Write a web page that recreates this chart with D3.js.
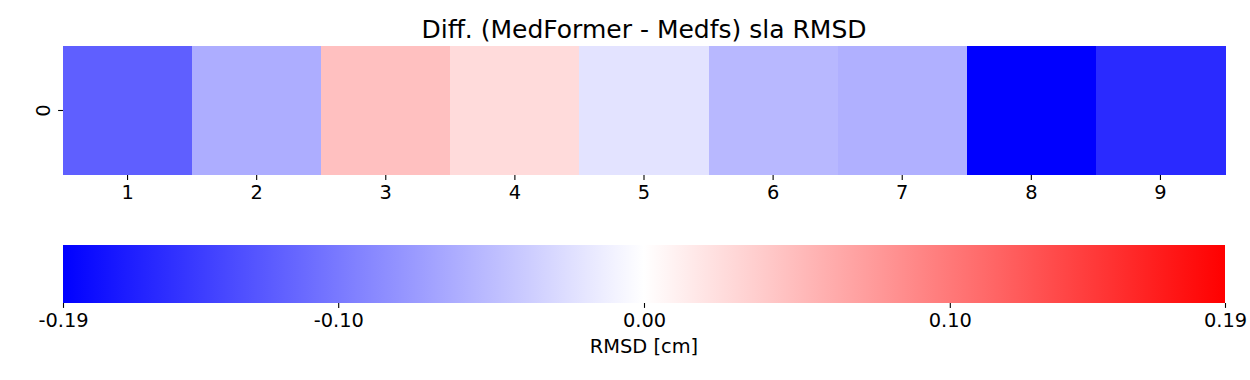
<!DOCTYPE html>
<html>
<head>
<meta charset="utf-8">
<script src="https://cdn.jsdelivr.net/npm/d3@7"></script>
<style>
  body { margin: 0; background: #fff; }
  text { font-family: "DejaVu Sans", sans-serif; fill: #000; }
</style>
</head>
<body>
<div class="chart"></div>
<script>
const width = 1250;
const height = 380;

// data
const columns = [1, 2, 3, 4, 5, 6, 7, 8, 9];
const rows = ["0"];
const rmsdDiff = [-0.119, -0.061, 0.047, 0.027, -0.021, -0.053, -0.059, -0.19, -0.159];
const cbarTicks = [-0.19, -0.10, 0.00, 0.10, 0.19];
const vmax = 0.19;

const titleText = "Diff. (MedFormer - Medfs) sla RMSD";
const cbarLabel = "RMSD [cm]";

const left = 63, right = 1225;
const hmTop = 46, hmBottom = 175;
const cbTop = 245, cbBottom = 303;

const svg = d3.select(".chart")
    .append("svg")
        .attr("width", width)
        .attr("height", height);

// bwr colormap
const color = d3.scaleLinear()
    .domain([-vmax, 0, vmax])
    .range(["#0000ff", "#ffffff", "#ff0000"])
    .clamp(true);

const x = d3.scaleBand()
    .domain(columns)
    .range([left, right])
    .padding(0);

const y = d3.scaleBand()
    .domain(rows)
    .range([hmTop, hmBottom]);

const cells = columns.map((c, i) => ({col: c, row: rows[0], value: rmsdDiff[i]}));

svg.append("g")
    .selectAll("rect")
    .data(cells)
    .join("rect")
        .attr("x", d => x(d.col))
        .attr("y", d => y(d.row))
        .attr("width", x.bandwidth() + 0.5)
        .attr("height", y.bandwidth())
        .attr("fill", d => color(d.value))
        .attr("shape-rendering", "crispEdges");

const tickSize = 4.9;
const fontSize = 19.4;

// x axis of the heatmap
const xAxis = svg.append("g")
    .attr("transform", `translate(0,${hmBottom})`)
    .call(d3.axisBottom(x).tickSize(tickSize).tickPadding(4.9));
xAxis.select(".domain").remove();
xAxis.selectAll(".tick line").attr("stroke", "#000").attr("stroke-width", 1.1);
xAxis.selectAll(".tick text")
    .attr("font-size", fontSize)
    .attr("font-family", "DejaVu Sans")
    .attr("fill", "#000");

// y axis
const yAxis = svg.append("g")
    .attr("transform", `translate(${left},0)`)
    .call(d3.axisLeft(y).tickSize(tickSize).tickPadding(4.9));
yAxis.select(".domain").remove();
yAxis.selectAll(".tick line").attr("stroke", "#000").attr("stroke-width", 1.1);
yAxis.selectAll(".tick text")
    .attr("font-size", fontSize)
    .attr("font-family", "DejaVu Sans")
    .attr("fill", "#000")
    .attr("x", null)
    .attr("dy", null)
    .attr("text-anchor", "middle")
    .attr("transform", `translate(${-tickSize - 4.9 - 3},0) rotate(-90)`);

// title
svg.append("text")
    .attr("x", (left + right) / 2)
    .attr("y", 37.5)
    .attr("text-anchor", "middle")
    .attr("font-size", 25)
    .text(titleText);

// colorbar
const defs = svg.append("defs");
const grad = defs.append("linearGradient")
    .attr("id", "bwr")
    .attr("x1", "0%").attr("x2", "100%")
    .attr("y1", "0%").attr("y2", "0%");
grad.selectAll("stop")
    .data(d3.range(0, 1.0001, 0.05))
    .join("stop")
        .attr("offset", d => d * 100 + "%")
        .attr("stop-color", d => color(-vmax + d * 2 * vmax));

const cx = d3.scaleLinear()
    .domain([-vmax, vmax])
    .range([left, right]);

svg.append("rect")
    .attr("x", left)
    .attr("y", cbTop)
    .attr("width", right - left)
    .attr("height", cbBottom - cbTop)
    .attr("fill", "url(#bwr)");

const cAxis = svg.append("g")
    .attr("transform", `translate(0,${cbBottom})`)
    .call(d3.axisBottom(cx)
        .tickValues(cbarTicks)
        .tickFormat(d3.format(".2f"))
        .tickSize(tickSize)
        .tickPadding(4.9));
cAxis.select(".domain").remove();
cAxis.selectAll(".tick line").attr("stroke", "#000").attr("stroke-width", 1.1);
cAxis.selectAll(".tick text")
    .attr("font-size", fontSize)
    .attr("font-family", "DejaVu Sans")
    .attr("fill", "#000")
    .text(d => d3.format(".2f")(d).replace("−", "-"));

svg.append("text")
    .attr("x", (left + right) / 2)
    .attr("y", 352.5)
    .attr("text-anchor", "middle")
    .attr("font-size", fontSize)
    .text(cbarLabel);
</script>
</body>
</html>
